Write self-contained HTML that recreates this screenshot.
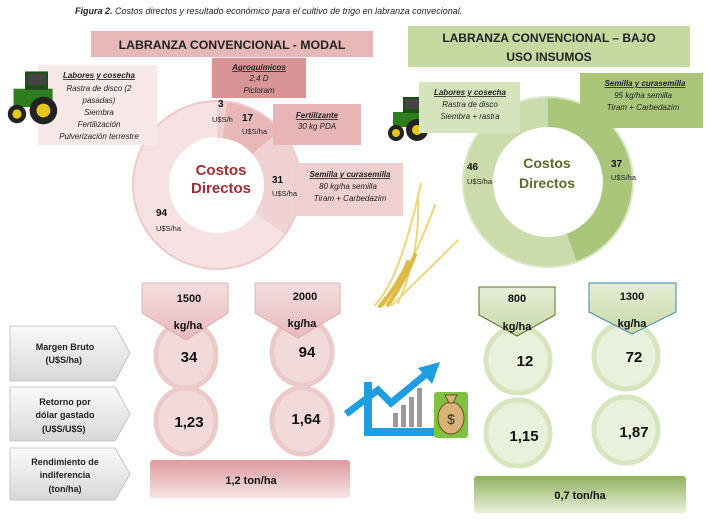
<!DOCTYPE html>
<html><head><meta charset="utf-8"><style>
body{margin:0;width:710px;height:524px;background:#fff;overflow:hidden;font-family:"Liberation Sans",sans-serif;}
svg text{font-family:"Liberation Sans",sans-serif;}
</style></head><body>
<svg width="710" height="524" viewBox="0 0 710 524" xmlns="http://www.w3.org/2000/svg">
<defs>
<linearGradient id="gr" x1="0" y1="0" x2="0" y2="1"><stop offset="0" stop-color="#fafafa"/><stop offset="1" stop-color="#d8d8d8"/></linearGradient>
<linearGradient id="pk" x1="0" y1="0" x2="0" y2="1"><stop offset="0" stop-color="#dd9a9e"/><stop offset="1" stop-color="#f6e4e4"/></linearGradient>
<linearGradient id="gn" x1="0" y1="0" x2="0" y2="1"><stop offset="0" stop-color="#8fb060"/><stop offset="1" stop-color="#e8f0d8"/></linearGradient>
<linearGradient id="pkar" x1="0" y1="0" x2="0" y2="1"><stop offset="0" stop-color="#f5dede"/><stop offset="1" stop-color="#e7b9bb"/></linearGradient>
<linearGradient id="gnar" x1="0" y1="0" x2="0" y2="1"><stop offset="0" stop-color="#e6eed6"/><stop offset="1" stop-color="#c6d9a6"/></linearGradient>
</defs>
<text x="75" y="14" font-size="9" font-style="italic" fill="#222"><tspan font-weight="bold">Figura 2.</tspan> Costos directos y resultado económico para el cultivo de trigo en labranza convecional.</text>

<rect x="91" y="31" width="282" height="26" fill="#e6b8b8"/>
<text x="232" y="49" font-size="12.3" font-weight="bold" text-anchor="middle" fill="#222">LABRANZA CONVENCIONAL - MODAL</text>
<rect x="408" y="26" width="282" height="41" fill="#c5d9a1"/>
<text x="549" y="42" font-size="12" font-weight="bold" text-anchor="middle" fill="#222">LABRANZA CONVENCIONAL – BAJO</text>
<text x="549" y="61" font-size="12" font-weight="bold" text-anchor="middle" fill="#222">USO INSUMOS</text>

<g transform="translate(217,185)">
<circle r="66" fill="none" stroke="#f6e2e2" stroke-width="36"/>
<path d="M0,-84 A84,84 0 0 1 10.2,-83.4 L5.7,-46.7 A47,47 0 0 0 0,-47Z" fill="#f0d0d0"/>
<path d="M10.2,-83.4 A84,84 0 0 1 63.4,-55.1 L35.5,-30.8 A47,47 0 0 0 5.7,-46.7Z" fill="#e8b8b8"/>
<path d="M63.4,-55.1 A84,84 0 0 1 68,49.4 L38,27.6 A47,47 0 0 0 35.5,-30.8Z" fill="#f0d2d2"/>
<circle r="84" fill="none" stroke="#efc9c9" stroke-width="2"/>
</g>
<text x="221" y="175" font-size="15" font-weight="bold" text-anchor="middle" fill="#9b2f36">Costos</text>
<text x="221" y="193" font-size="15" font-weight="bold" text-anchor="middle" fill="#9b2f36">Directos</text>

<rect x="38" y="65" width="119" height="80" fill="#f8e8e8"/>
<text font-size="8" font-style="italic" text-anchor="middle" fill="#222"><tspan x="99" y="78" font-weight="bold" text-decoration="underline">Labores y cosecha</tspan><tspan x="99" y="91">Rastra de disco (2</tspan><tspan x="99" y="103">pasadas)</tspan><tspan x="99" y="115">Siembra</tspan><tspan x="99" y="127">Fertilización</tspan><tspan x="99" y="139">Pulverización terrestre</tspan></text>
<rect x="212" y="58" width="94" height="40" fill="#d99596"/>
<text font-size="8" font-style="italic" text-anchor="middle" fill="#222"><tspan x="259" y="70" font-weight="bold" text-decoration="underline">Agroquímicos</tspan><tspan x="259" y="81">2,4 D</tspan><tspan x="259" y="93">Picloram</tspan></text>
<rect x="273" y="104" width="88" height="41" fill="#e7b5b5"/>
<text font-size="8" font-style="italic" text-anchor="middle" fill="#222"><tspan x="317" y="118" font-weight="bold" text-decoration="underline">Fertilizante</tspan><tspan x="317" y="129">30 kg PDA</tspan></text>
<rect x="293" y="163" width="110" height="53" fill="#f0cfcf"/>
<text font-size="8" font-style="italic" text-anchor="middle" fill="#222"><tspan x="350" y="177" font-weight="bold" text-decoration="underline">Semilla y curasemilla</tspan><tspan x="348" y="189">80 kg/ha semilla</tspan><tspan x="350" y="201">Tiram + Carbedazim</tspan></text>

<text font-size="10" font-weight="bold" fill="#111"><tspan x="218" y="107">3</tspan><tspan x="242" y="121">17</tspan><tspan x="272" y="183">31</tspan><tspan x="156" y="216">94</tspan></text>
<text font-size="7.5" fill="#222"><tspan x="212" y="122">U$S/h</tspan><tspan x="242" y="134">U$S/ha</tspan><tspan x="272" y="196">U$S/ha</tspan><tspan x="156" y="231">U$S/ha</tspan></text>

<g transform="translate(2,68) scale(1.15)">
<rect x="10" y="18" width="34" height="16" fill="#2e7d1f"/><rect x="20" y="3" width="20" height="16" fill="#1d4f14"/><rect x="22" y="5" width="16" height="10" fill="#444"/>
<circle cx="36" cy="37" r="12" fill="#222"/><circle cx="36" cy="37" r="6" fill="#e5c51e"/><circle cx="13" cy="40" r="8" fill="#222"/><circle cx="13" cy="40" r="4" fill="#e5c51e"/>
</g>
<g transform="translate(383,94)">
<rect x="10" y="18" width="32" height="15" fill="#2e7d1f"/><rect x="20" y="3" width="19" height="16" fill="#1d4f14"/><rect x="22" y="5" width="15" height="10" fill="#444"/>
<circle cx="34" cy="36" r="11" fill="#222"/><circle cx="34" cy="36" r="5" fill="#e5c51e"/><circle cx="13" cy="39" r="8" fill="#222"/><circle cx="13" cy="39" r="4" fill="#e5c51e"/>
</g>

<g transform="translate(548,182)">
<circle r="70" fill="none" stroke="#cadcab" stroke-width="30"/>
<path d="M0,-85 A85,85 0 0 1 29,79.9 L18.8,51.7 A55,55 0 0 0 0,-55Z" fill="#a9c67b"/>
<circle r="85" fill="none" stroke="#d8e6c2" stroke-width="2"/>
</g>
<text x="547" y="168" font-size="14" font-weight="bold" text-anchor="middle" fill="#5b6b2a">Costos</text>
<text x="547" y="188" font-size="14" font-weight="bold" text-anchor="middle" fill="#5b6b2a">Directos</text>
<text font-size="10" font-weight="bold" fill="#111"><tspan x="467" y="170">46</tspan><tspan x="611" y="167">37</tspan></text>
<text font-size="7.5" fill="#222"><tspan x="467" y="184">U$S/ha</tspan><tspan x="611" y="180">U$S/ha</tspan></text>
<rect x="419" y="82" width="101" height="51" fill="#d6e4bd"/>
<text font-size="8" font-style="italic" text-anchor="middle" fill="#222"><tspan x="470" y="95" font-weight="bold" text-decoration="underline">Labores y cosecha</tspan><tspan x="470" y="107">Rastra de disco</tspan><tspan x="470" y="119">Siembra + rastra</tspan></text>
<rect x="580" y="73" width="123" height="55" fill="#a9c67b"/>
<text font-size="8" font-style="italic" text-anchor="middle" fill="#222"><tspan x="645" y="86" font-weight="bold" text-decoration="underline">Semilla y curasemilla</tspan><tspan x="643" y="98">95 kg/ha semilla</tspan><tspan x="643" y="110">Tiram + Carbedazim</tspan></text>

<g stroke="#ecd57a" stroke-width="2" fill="none" stroke-linecap="round" stroke-dasharray="2 1">
<path d="M375,305 Q400,280 421,183"/><path d="M383,306 Q412,268 435,205"/><path d="M392,305 Q430,268 458,240"/><path d="M398,303 Q420,255 418,200"/>
</g>
<g stroke="#dcbb45" stroke-width="4" fill="none" stroke-linecap="round" stroke-dasharray="3 1.5">
<path d="M388,305 Q405,280 415,255"/><path d="M380,306 Q398,285 408,262"/>
</g>

<g fill="url(#gr)" stroke="#bbb" stroke-width="0.8">
<path d="M10,326 H115 L130,353 L115,381 H10Z"/>
<path d="M10,387 H115 L130,414 L115,441 H10Z"/>
<path d="M10,448 H115 L130,474 L115,500 H10Z"/>
</g>
<text font-size="9" font-weight="bold" text-anchor="middle" fill="#222"><tspan x="65" y="350">Margen Bruto</tspan><tspan x="65" y="363">(U$S/ha)</tspan>
<tspan x="65" y="405">Retorno por</tspan><tspan x="65" y="418">dólar gastado</tspan><tspan x="65" y="432">(U$S/U$S)</tspan>
<tspan x="65" y="465">Rendimiento de</tspan><tspan x="65" y="478">indiferencia</tspan><tspan x="65" y="492">(ton/ha)</tspan></text>

<g fill="#f3dada" stroke="#eccaca" stroke-width="5">
<ellipse cx="186" cy="355" rx="30" ry="33"/><ellipse cx="302" cy="352" rx="30" ry="33"/>
<ellipse cx="186" cy="421" rx="30" ry="33"/><ellipse cx="302" cy="421" rx="30" ry="33"/>
</g>
<g fill="url(#pkar)" stroke="#d9a5a8" stroke-width="0.8">
<path d="M142,283 H228 V313 L186,340 L142,313Z"/>
<path d="M255,283 H340 V313 L298,338 L255,313Z"/>
</g>
<text font-size="11" font-weight="bold" text-anchor="middle" fill="#111"><tspan x="189" y="302">1500</tspan><tspan x="188" y="329">kg/ha</tspan><tspan x="305" y="300">2000</tspan><tspan x="302" y="327">kg/ha</tspan></text>
<text font-size="15" font-weight="bold" text-anchor="middle" fill="#111"><tspan x="189" y="362">34</tspan><tspan x="307" y="357">94</tspan><tspan x="189" y="427">1,23</tspan><tspan x="306" y="424">1,64</tspan></text>
<rect x="150" y="460" width="200" height="38" rx="3" fill="url(#pk)"/>
<text x="251" y="484" font-size="11" font-weight="bold" text-anchor="middle" fill="#111">1,2 ton/ha</text>

<g>
<rect x="364" y="382" width="8" height="54" fill="#1e9ee0"/><rect x="364" y="428" width="70" height="8" fill="#1e9ee0"/>
<rect x="393" y="413" width="5" height="14" fill="#999"/><rect x="401" y="405" width="5" height="22" fill="#999"/><rect x="409" y="397" width="5" height="30" fill="#999"/><rect x="417" y="388" width="5" height="39" fill="#999"/>
<polyline points="346,414 378,390 391,403 425,375" fill="none" stroke="#1e9ee0" stroke-width="7"/>
<polygon points="418,368 440,362 432,384" fill="#1e9ee0"/>
<rect x="434" y="392" width="34" height="46" rx="3" fill="#7fc241"/>
<ellipse cx="451" cy="418" rx="13" ry="16" fill="#d8b47a" stroke="#6b4f22"/>
<path d="M445,395 L457,395 L453,403 L449,403Z" fill="#d8b47a" stroke="#6b4f22"/>
<text x="451" y="424" font-size="14" text-anchor="middle" fill="#3a2a10">$</text>
</g>

<g fill="#e9f1dc" stroke="#d6e5bd" stroke-width="5">
<ellipse cx="518" cy="360" rx="32" ry="33"/><ellipse cx="626" cy="356" rx="32" ry="33"/>
<ellipse cx="518" cy="433" rx="32" ry="33"/><ellipse cx="626" cy="430" rx="32" ry="33"/>
</g>
<path d="M479,287 H555 V315 L517,336 L479,315Z" fill="url(#gnar)" stroke="#5d6e2c" stroke-width="1"/>
<path d="M589,283 H676 V312 L632,334 L589,312Z" fill="url(#gnar)" stroke="#3c87a8" stroke-width="1"/>
<text font-size="11" font-weight="bold" text-anchor="middle" fill="#111"><tspan x="517" y="302">800</tspan><tspan x="517" y="330">kg/ha</tspan><tspan x="632" y="300">1300</tspan><tspan x="632" y="327">kg/ha</tspan></text>
<text font-size="15" font-weight="bold" text-anchor="middle" fill="#111"><tspan x="525" y="366">12</tspan><tspan x="634" y="362">72</tspan><tspan x="524" y="441">1,15</tspan><tspan x="634" y="437">1,87</tspan></text>
<rect x="474" y="476" width="212" height="37" rx="3" fill="url(#gn)"/>
<text x="580" y="499" font-size="11" font-weight="bold" text-anchor="middle" fill="#111">0,7 ton/ha</text>
</svg>
</body></html>
